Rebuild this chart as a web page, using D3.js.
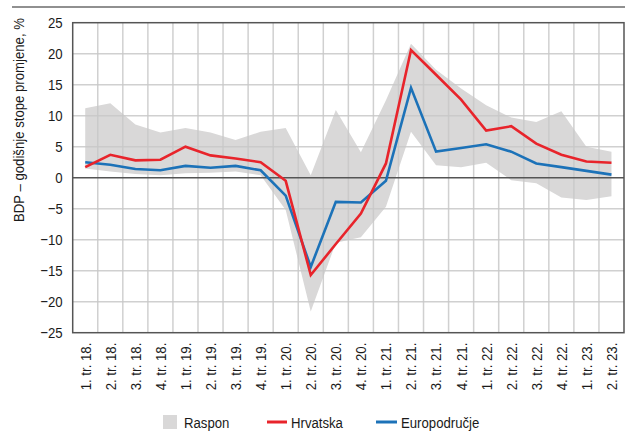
<!DOCTYPE html>
<html>
<head>
<meta charset="utf-8">
<script src="https://cdn.jsdelivr.net/npm/d3@7"></script>
<style>
  html, body { margin: 0; padding: 0; background: #fff; }
  svg text { font-family: "Liberation Sans", Arial, sans-serif; fill: #1a1a1a; }
</style>
</head>
<body>
<svg id="chart" width="632" height="432"></svg>
<script>
const categories = ["1. tr. 18.", "2. tr. 18.", "3. tr. 18.", "4. tr. 18.",
  "1. tr. 19.", "2. tr. 19.", "3. tr. 19.", "4. tr. 19.",
  "1. tr. 20.", "2. tr. 20.", "3. tr. 20.", "4. tr. 20.",
  "1. tr. 21.", "2. tr. 21.", "3. tr. 21.", "4. tr. 21.",
  "1. tr. 22.", "2. tr. 22.", "3. tr. 22.", "4. tr. 22.",
  "1. tr. 23.", "2. tr. 23."];
const hrvatska = [1.7, 3.7, 2.8, 2.9, 5.0, 3.6, 3.1, 2.5, -0.5, -15.7, -10.7, -5.8, 2.3, 20.6, 16.6, 12.6, 7.6, 8.3, 5.5, 3.7, 2.6, 2.4];
const europodrucje = [2.5, 2.1, 1.4, 1.2, 1.9, 1.6, 1.9, 1.2, -2.9, -14.4, -3.9, -4.0, -0.5, 14.5, 4.2, 4.8, 5.4, 4.2, 2.3, 1.7, 1.1, 0.5];
const rasponMax = [11.2, 12.0, 8.6, 7.3, 8.0, 7.3, 6.1, 7.4, 8.0, 0.4, 10.9, 4.1, 12.5, 21.6, 17.4, 14.4, 11.7, 9.7, 9.0, 10.7, 5.0, 4.2];
const rasponMin = [1.5, 1.0, 0.6, 0.4, 0.7, 0.8, 1.0, 0.4, -5.2, -21.6, -10.5, -9.6, -4.7, 7.4, 2.0, 1.7, 2.4, -0.4, -0.9, -3.2, -3.6, -3.0];
const yTicks = [25, 20, 15, 10, 5, 0, -5, -10, -15, -20, -25];
const yTitle = "BDP – godišnje stope promjene, %";
const legendLabels = ["Raspon", "Hrvatska", "Europodručje"];

const colors = { band: "#d9d8d8", red: "#e8242b", blue: "#1c72b8", grid: "#c8c8c8", axis: "#555555" };
const fs = "15.5px";
const narrow = "scale(0.85,1)";

const svg = d3.select("#chart");
const pLeft = 72.7, pRight = 624, pTop = 22.7, pBottom = 332.7;

const x = d3.scaleBand().domain(categories).range([pLeft, pRight]).padding(0);
const cx = c => x(c) + x.bandwidth() / 2;
const y = d3.scaleLinear().domain([-25, 25]).range([pBottom, pTop]);

// top rule
svg.append("line").attr("x1", 12).attr("x2", 625).attr("y1", 7).attr("y2", 7)
  .attr("stroke", "#6b6b6b").attr("stroke-width", 1.5);

// range band
const area = d3.area()
  .x((d, i) => cx(categories[i]))
  .y0((d, i) => y(rasponMin[i]))
  .y1((d, i) => y(rasponMax[i]));
svg.append("path").datum(categories).attr("d", area).attr("fill", colors.band);

// grid
const grid = svg.append("g");
grid.selectAll("line.h").data(yTicks.filter(v => v !== 0 && v !== 25 && v !== -25)).join("line")
  .attr("x1", pLeft).attr("x2", pRight).attr("y1", d => y(d)).attr("y2", d => y(d))
  .attr("stroke", colors.grid).attr("stroke-opacity", 0.85).attr("stroke-width", 1.5);
grid.selectAll("line.v").data(categories.slice(1)).join("line")
  .attr("x1", d => x(d)).attr("x2", d => x(d)).attr("y1", pTop).attr("y2", pBottom)
  .attr("stroke", colors.grid).attr("stroke-opacity", 0.85).attr("stroke-width", 1.5);

// zero line
svg.append("line").attr("x1", pLeft).attr("x2", pRight).attr("y1", y(0)).attr("y2", y(0))
  .attr("stroke", colors.axis).attr("stroke-width", 1.5);

// border
svg.append("rect").attr("x", pLeft).attr("y", pTop).attr("width", pRight - pLeft).attr("height", pBottom - pTop)
  .attr("fill", "none").attr("stroke", colors.axis).attr("stroke-width", 1.5);

// lines
const line = vals => d3.line().x((d, i) => cx(categories[i])).y(d => y(d))(vals);
svg.append("path").attr("d", line(europodrucje)).attr("fill", "none")
  .attr("stroke", colors.blue).attr("stroke-width", 2.6).attr("stroke-linejoin", "miter");
svg.append("path").attr("d", line(hrvatska)).attr("fill", "none")
  .attr("stroke", colors.red).attr("stroke-width", 2.6).attr("stroke-linejoin", "miter");

// y axis
const yAxis = d3.axisLeft(y).tickValues(yTicks).tickSize(0).tickPadding(10)
  .tickFormat(d => d < 0 ? "\u2212" + Math.abs(d) : String(d));
const gy = svg.append("g").attr("transform", `translate(${pLeft},0)`).call(yAxis);
gy.select(".domain").remove();
gy.selectAll("text").style("font-size", fs).attr("fill", "#1a1a1a")
  .attr("x", 0).attr("transform", "translate(-10,0) " + narrow);

// x axis
const xAxis = d3.axisBottom(x).tickSize(0).tickPadding(0);
const gx = svg.append("g").attr("transform", `translate(0,${pBottom})`).call(xAxis);
gx.select(".domain").remove();
gx.selectAll("text")
  .style("font-size", fs)
  .attr("text-anchor", "end")
  .attr("dy", "0.35em")
  .attr("transform", "translate(0,10) rotate(-90) " + narrow)
  .attr("x", 0).attr("y", 0);

// y title
svg.append("text")
  .attr("transform", "translate(24,222) rotate(-90) " + narrow)
  .attr("text-anchor", "start")
  .style("font-size", fs)
  .text(yTitle);

// legend
const lg = svg.append("g");
lg.append("rect").attr("x", 163).attr("y", 415).attr("width", 14).attr("height", 14).attr("fill", colors.band);
lg.append("text").attr("transform", "translate(184,428) " + narrow).style("font-size", fs).text(legendLabels[0]);
lg.append("line").attr("x1", 267).attr("x2", 287).attr("y1", 422).attr("y2", 422).attr("stroke", colors.red).attr("stroke-width", 3);
lg.append("text").attr("transform", "translate(291,428) " + narrow).style("font-size", fs).text(legendLabels[1]);
lg.append("line").attr("x1", 376).attr("x2", 397).attr("y1", 422).attr("y2", 422).attr("stroke", colors.blue).attr("stroke-width", 3);
lg.append("text").attr("transform", "translate(401,428) " + narrow).style("font-size", fs).text(legendLabels[2]);
</script>
</body>
</html>
